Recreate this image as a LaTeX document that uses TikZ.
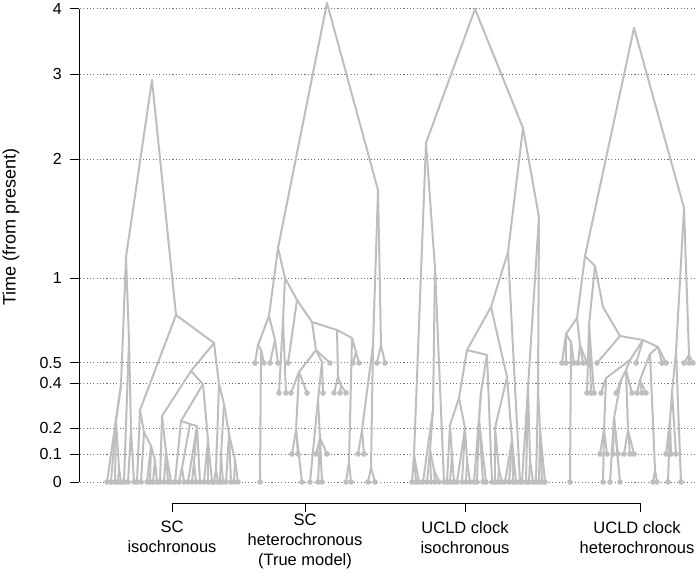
\documentclass[tikz,border=0pt]{standalone}
\usepackage{fontspec}
\setmainfont{Liberation Sans}
\definecolor{treegray}{HTML}{BEBEBE}
\newcommand\marktip[2]{%
  \ifnum#2=482 \fill[tipdot] (#1,#2) circle (2.8);\fi
  \ifnum#2=454 \fill[tipdot] (#1,#2) circle (2.8);\fi
  \ifnum#2=393 \fill[tipdot] (#1,#2) circle (2.8);\fi
  \ifnum#2=363 \fill[tipdot] (#1,#2) circle (2.8);\fi}

\begin{document}
\begin{tikzpicture}[x=1pt,y=-1pt,declare function={ty(\t)=482-294*ln(1+\t);},
branch/.style={treegray,line width=2pt,line cap=round},tipdot/.style={fill=treegray},
gridline/.style={black!55,line width=0.7pt,dash pattern=on 1.1pt off 2.2pt},
axisline/.style={black,line width=0.8pt},
lab/.style={font=\fontsize{16.5}{20}\selectfont,align=center,anchor=north,inner sep=0pt}]
\useasboundingbox (0,0) rectangle (700,584);
\foreach \t [count=\i] in {0,0.1,0.2,0.4,0.5,1,2,3,4}{
  \draw[gridline] (80,{ty(\t)}) -- (696,{ty(\t)});
  \draw[axisline] (70,{ty(\t)}) -- (79,{ty(\t)});
  \node[anchor=east,inner sep=0pt,font=\fontsize{16}{19}\selectfont] (tk\i) at (62,{ty(\t)}) {\t};}
\foreach \xa/\ya/\xb/\yb in {152/80/126/257,152/80/176/315,126/257/121/385,126/257/129/340,121/385/107/482,121/385/116/420,116/420/111/482,116/420/115/482,116/420/119/468,119/468/118/482,119/468/121/482,129/340/124/482,129/340/131/430,131/430/128/482,131/430/134/482,176/315/140/410,176/315/214/343,140/410/137/482,140/410/144/432,144/432/141/482,144/432/151/446,151/446/147/482,151/446/150/482,151/446/155/460,155/460/153/482,155/460/157/482,214/343/191/371,214/343/219/384,191/371/162/416,191/371/203/384,162/416/160/482,162/416/166/452,166/452/164/482,166/452/168/482,166/452/171/482,203/384/181/421,203/384/208/440,181/421/175/482,181/421/190/424,190/424/182/468,190/424/197/426,182/468/179/482,182/468/184/482,197/426/188/482,197/426/194/462,197/426/200/482,194/462/192/482,194/462/196/482,208/440/204/482,208/440/208/482,208/440/212/482,219/384/224/404,219/384/216/470,216/470/214/482,216/470/218/482,224/404/229/434,224/404/221/455,221/455/220/482,221/455/223/482,229/434/226/482,229/434/231/482,229/434/235/460,235/460/234/482,235/460/238/482}
  {\draw[branch] (\xa,\ya) -- (\xb,\yb); \marktip{\xb}{\yb}}
\foreach \xa/\ya/\xb/\yb in {327/3/278/248,327/3/378/190,278/248/269/316,278/248/285/278,269/316/258/345,269/316/275/340,258/345/255/363,258/345/261/350,261/350/260/482,261/350/264/363,275/340/270/363,275/340/278/363,285/278/283/320,285/278/297/300,283/320/279/393,283/320/286/393,297/300/288/363,297/300/312/322,312/322/337/330,312/322/316/350,337/330/352/338,337/330/338/377,352/338/356/352,352/338/349/462,356/352/353/363,356/352/359/363,349/462/346/482,349/462/351/482,338/377/334/393,338/377/341/385,341/385/340/393,341/385/346/393,316/350/299/372,316/350/322/362,316/350/330/363,299/372/291/393,299/372/296/430,299/372/307/393,296/430/292/454,296/430/298/454,296/430/302/482,322/362/323/393,322/362/318/400,318/400/310/482,318/400/320/438,320/438/316/454,320/438/318/482,320/438/322/482,320/438/327/454,378/190/381/345,378/190/373/345,381/345/377/363,381/345/385/363,373/345/362/430,373/345/371/468,362/430/358/454,362/430/364/454,371/468/368/482,371/468/375/482}
  {\draw[branch] (\xa,\ya) -- (\xb,\yb); \marktip{\xb}{\yb}}
\foreach \xa/\ya/\xb/\yb in {475/9/426/143,475/9/523/128,426/143/414/455,426/143/435/268,414/455/412/482,414/455/416/482,414/455/419/482,435/268/433/410,435/268/444/482,433/410/423/482,433/410/430/450,430/450/427/482,430/450/431/482,430/450/434/470,434/470/435/482,434/470/439/482,523/128/508/252,523/128/539/217,508/252/491/307,508/252/520/482,491/307/467/350,491/307/507/377,467/350/487/355,467/350/459/398,459/398/450/425,459/398/465/428,450/425/447/482,450/425/452/455,452/455/450/482,452/455/454/482,465/428/457/482,465/428/462/482,465/428/467/460,467/460/466/482,467/460/470/482,487/355/481/392,487/355/492/482,481/392/474/482,481/392/479/420,479/420/477/482,479/420/483/482,479/420/486/482,507/377/495/428,507/377/512/440,495/428/495/482,495/428/499/470,499/470/498/482,499/470/502/482,512/440/505/482,512/440/509/482,512/440/513/482,512/440/516/482,539/217/528/387,539/217/538/390,528/387/522/482,528/387/526/482,528/387/530/460,530/460/529/482,530/460/533/482,538/390/536/482,538/390/540/430,540/430/539/482,540/430/542/482,540/430/545/482}
  {\draw[branch] (\xa,\ya) -- (\xb,\yb); \marktip{\xb}{\yb}}
\foreach \xa/\ya/\xb/\yb in {634/28/585/256,634/28/684/208,684/208/689/355,684/208/676/352,689/355/684/363,689/355/689/363,689/355/693/363,676/352/672/392,676/352/681/482,672/392/670/420,672/392/676/454,670/420/666/454,670/420/671/454,670/420/668/482,585/256/577/318,585/256/595/266,577/318/566/334,577/318/580/345,566/334/562/363,566/334/566/363,566/334/571/342,571/342/570/482,571/342/574/363,580/345/578/363,580/345/583/363,580/345/587/363,595/266/589/325,595/266/603/307,589/325/587/393,589/325/591/393,589/325/594/393,603/307/620/336,620/336/597/363,620/336/643/340,643/340/658/347,643/340/630/360,643/340/636/363,658/347/662/363,658/347/666/363,658/347/650/354,650/354/640/380,650/354/655/470,640/380/637/393,640/380/642/393,640/380/646/393,655/470/653/482,655/470/657/482,630/360/606/378,630/360/626/370,606/378/601/393,606/378/604/430,604/430/600/454,604/430/603/482,604/430/607/454,626/370/621/380,626/370/632/393,626/370/628/430,621/380/616/393,621/380/614/418,614/418/610/482,614/418/613/454,614/418/618/454,614/418/620/482,628/430/624/454,628/430/630/454,628/430/634/454}
  {\draw[branch] (\xa,\ya) -- (\xb,\yb); \marktip{\xb}{\yb}}
\draw[axisline] (79,{ty(4)}) -- (79,{ty(0)});
\node[rotate=90,inner sep=0pt,font=\fontsize{18}{21}\selectfont] (ytitle) at (11,227) {Time (from present)};
\draw[axisline] (172,512) |- (640,503) -- (640,512);
\draw[axisline] (305,503) -- (305,512) (465,503) -- (465,512);
\node[lab] (sciso) at (172,521) {SC\\isochronous};
\node[lab] (schet) at (305,514) {SC\\heterochronous\\(True model)};
\node[lab] (uciso) at (465,521) {UCLD clock\\isochronous};
\node[lab] (uchet) at (637,521) {UCLD clock\\heterochronous};
\end{tikzpicture}
\end{document}
